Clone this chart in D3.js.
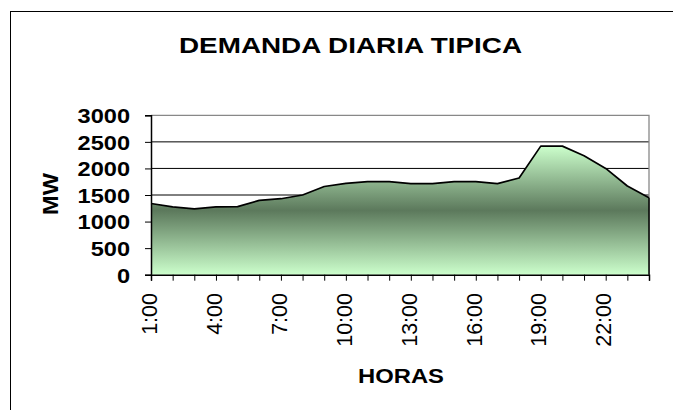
<!DOCTYPE html>
<html>
<head>
<meta charset="utf-8">
<script src="https://cdn.jsdelivr.net/npm/d3@7"></script>
<style>
  body { margin: 0; background: #fff; }
  text { font-family: "Liberation Sans", Arial, sans-serif; }
</style>
</head>
<body>
<div id="chart"></div>
<script>
// data
var horas = ["1:00","2:00","3:00","4:00","5:00","6:00","7:00","8:00","9:00","10:00","11:00","12:00",
             "13:00","14:00","15:00","16:00","17:00","18:00","19:00","20:00","21:00","22:00","23:00","24:00"]
var demanda = [1340, 1275, 1240, 1275, 1280, 1400, 1430, 1500, 1660, 1720, 1750, 1750,
               1715, 1715, 1750, 1750, 1715, 1820, 2420, 2420, 2240, 2000, 1670, 1450]
var yTicks = [0, 500, 1000, 1500, 2000, 2500, 3000]
var labelHoras = ["1:00","4:00","7:00","10:00","13:00","16:00","19:00","22:00"]

var width = 673,
    height = 410
var plot = {left: 151, right: 649, top: 115.3, bottom: 274.7}

var svg = d3.select("#chart")
  .append("svg")
  .attr("width", width)
  .attr("height", height)

// stretch a text along its direction
function stretch(sel, factor) {
  sel.each(function() {
    var len = this.getComputedTextLength()
    d3.select(this).attr("textLength", len * factor).attr("lengthAdjust", "spacingAndGlyphs")
  })
}
function fitTo(sel, len) {
  sel.attr("textLength", len).attr("lengthAdjust", "spacingAndGlyphs")
}

// outer frame (runs off the page to the right and bottom)
svg.append("rect")
  .attr("x", 10.5).attr("y", 11.5)
  .attr("width", 800).attr("height", 600)
  .attr("fill", "none").attr("stroke", "#000").attr("stroke-width", 1)

var x = d3.scalePoint()
  .domain(horas)
  .range([plot.left, plot.right])

var y = d3.scaleLinear()
  .domain([0, 3000])
  .range([plot.bottom, plot.top])

// gradient for the area
var defs = svg.append("defs")
var grad = defs.append("linearGradient")
  .attr("id", "areaGrad")
  .attr("x1", 0).attr("y1", 0).attr("x2", 0).attr("y2", 1)
grad.append("stop").attr("offset", "0%").attr("stop-color", "#ccffcc")
grad.append("stop").attr("offset", "50%").attr("stop-color", "#5c795c")
grad.append("stop").attr("offset", "100%").attr("stop-color", "#ccffcc")

// gridlines
svg.append("g")
  .selectAll("line")
  .data(yTicks.filter(function(d) { return d > 0 && d < 3000 }))
  .enter()
  .append("line")
  .attr("x1", plot.left).attr("x2", plot.right)
  .attr("y1", function(d) { return y(d) }).attr("y2", function(d) { return y(d) })
  .attr("stroke", "#000").attr("stroke-width", 1)

// plot area border (top and right)
svg.append("path")
  .attr("d", "M" + plot.left + "," + y(3000) + "H" + plot.right + "V" + plot.bottom)
  .attr("fill", "none").attr("stroke", "#888").attr("stroke-width", 1.3)

var area = d3.area()
  .x(function(d, i) { return x(horas[i]) })
  .y0(y(0))
  .y1(function(d) { return y(d) })

svg.append("path")
  .datum(demanda)
  .attr("d", area)
  .attr("fill", "url(#areaGrad)")

var line = d3.line()
  .x(function(d, i) { return x(horas[i]) })
  .y(function(d) { return y(d) })

svg.append("path")
  .datum(demanda)
  .attr("d", line)
  .attr("fill", "none")
  .attr("stroke", "#000")
  .attr("stroke-width", 1.7)
  .attr("stroke-linejoin", "round")

// right edge of the area
svg.append("line")
  .attr("x1", plot.right).attr("x2", plot.right)
  .attr("y1", y(demanda[demanda.length - 1])).attr("y2", plot.bottom)
  .attr("stroke", "#000").attr("stroke-width", 1.5)

// y axis
var yAxis = svg.append("g")
  .attr("transform", "translate(" + plot.left + ",0)")
  .call(d3.axisLeft(y).tickValues(yTicks).tickFormat(d3.format("d")).tickSize(6))
yAxis.select(".domain").attr("stroke", "#000").attr("stroke-width", 1.5)
yAxis.selectAll(".tick line").attr("stroke", "#000")
yAxis.selectAll(".tick text")
  .attr("fill", "#000")
  .attr("font-family", null)
  .attr("font-size", null)
  .style("font-size", "20.5px")
  .style("font-weight", "bold")
  .attr("x", -21)
  .attr("dy", "0.36em")
  .call(stretch, 1.15)

// x axis
var xAxis = svg.append("g")
  .attr("transform", "translate(0," + plot.bottom + ")")
  .call(d3.axisBottom(x).tickSize(6).tickFormat(""))
xAxis.select(".domain").attr("stroke", "#000").attr("stroke-width", 1.5)
xAxis.selectAll(".tick line").attr("stroke", "#000")

svg.append("g")
  .selectAll("text")
  .data(labelHoras)
  .enter()
  .append("text")
  .attr("transform", function(d) { return "translate(" + (x(d) - 2) + ",293) rotate(-90)" })
  .attr("text-anchor", "end")
  .attr("dy", "0.36em")
  .style("font-size", "21.5px")
  .attr("fill", "#000")
  .text(function(d) { return d })

// titles
svg.append("text")
  .attr("x", 350.5).attr("y", 52.5)
  .attr("text-anchor", "middle")
  .style("font-size", "22px").style("font-weight", "bold")
  .text("DEMANDA DIARIA TIPICA")
  .call(fitTo, 343)

svg.append("text")
  .attr("transform", "translate(57.5,194) rotate(-90)")
  .attr("text-anchor", "middle")
  .style("font-size", "21.5px").style("font-weight", "bold")
  .text("MW")
  .call(fitTo, 42)

svg.append("text")
  .attr("x", 401).attr("y", 383)
  .attr("text-anchor", "middle")
  .style("font-size", "20.5px").style("font-weight", "bold")
  .text("HORAS")
  .call(fitTo, 86)
</script>
</body>
</html>
